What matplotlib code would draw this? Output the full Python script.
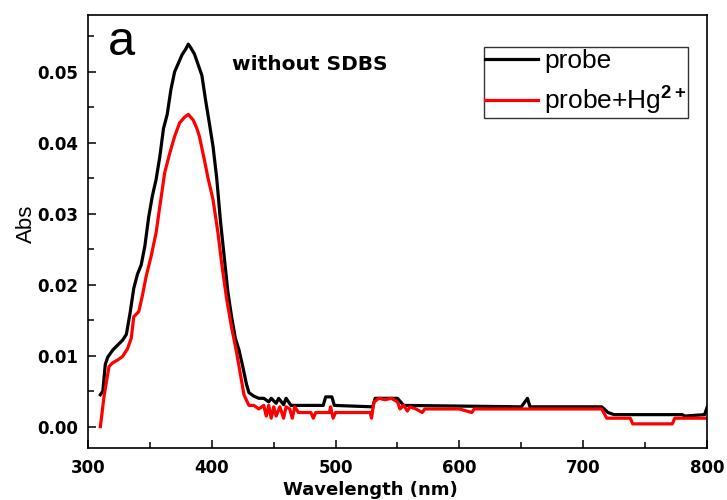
import matplotlib

matplotlib.use("Agg")
import matplotlib.pyplot as plt
from matplotlib.ticker import MultipleLocator

plt.rcParams["font.family"] = ["Liberation Sans", "DejaVu Sans"]
plt.rcParams["mathtext.fontset"] = "custom"
plt.rcParams["mathtext.rm"] = "Liberation Sans"
plt.rcParams["mathtext.bf"] = "Liberation Sans:bold"

# probe (black)
probe_wl = [
    310, 312, 314, 316, 320, 324, 328, 331, 334, 337, 340, 343, 346, 349, 352,
    355, 358, 361, 364, 367, 370, 373, 376, 379, 381, 383, 386, 389, 392, 395,
    398, 401, 404, 407, 410, 413, 416, 419, 422, 425, 428, 430, 434, 438, 442,
    446, 448, 452, 454, 458, 460, 464, 470, 490, 492, 497, 499, 530, 532, 550,
    555, 650, 655, 657, 715, 720, 725, 780, 782, 798, 800,
]
probe_abs = [
    0.0045, 0.0050, 0.0088, 0.0098, 0.0108, 0.0115, 0.0122, 0.0130, 0.0160,
    0.0195, 0.0215, 0.0228, 0.0255, 0.0295, 0.0325, 0.0348, 0.0380, 0.0420,
    0.0440, 0.0475, 0.0500, 0.0512, 0.0524, 0.0532, 0.0539, 0.0534, 0.0525,
    0.0510, 0.0495, 0.0460, 0.0428, 0.0395, 0.0350, 0.0290, 0.0240, 0.0190,
    0.0155, 0.0125, 0.0108, 0.0085, 0.0060, 0.0048, 0.0043, 0.0040, 0.0040,
    0.0035, 0.0040, 0.0033, 0.0040, 0.0031, 0.0040, 0.0030, 0.0030, 0.0030,
    0.0042, 0.0042, 0.0030, 0.0028, 0.0040, 0.0040, 0.0030, 0.0028, 0.0040,
    0.0028, 0.0028, 0.0020, 0.0017, 0.0017, 0.0015, 0.0017, 0.0027,
]

# probe + Hg2+ (red)
hg_wl = [
    310, 313, 317, 320, 324, 328, 332, 335, 337, 341, 344, 347, 351, 355, 358,
    362, 366, 370, 374, 378, 381, 385, 388, 390, 394, 397, 401, 405, 408, 412,
    416, 420, 423, 426, 430, 434, 438, 442, 444, 446, 448, 450, 452, 455, 458,
    460, 463, 465, 467, 470, 480, 482, 484, 495, 496, 498, 500, 528, 529, 531,
    535, 540, 545, 550, 552, 555, 558, 560, 565, 570, 572, 600, 610, 612, 715,
    719, 738, 740, 772, 774, 800,
]
hg_abs = [
    0.0000, 0.0043, 0.0085, 0.0090, 0.0094, 0.0099, 0.0110, 0.0125, 0.0155,
    0.0162, 0.0185, 0.0212, 0.0240, 0.0273, 0.0310, 0.0358, 0.0385, 0.0409,
    0.0428, 0.0436, 0.0440, 0.0432, 0.0420, 0.0409, 0.0376, 0.0350, 0.0320,
    0.0273, 0.0230, 0.0180, 0.0140, 0.0105, 0.0075, 0.0045, 0.0030, 0.0030,
    0.0025, 0.0030, 0.0015, 0.0030, 0.0012, 0.0028, 0.0015, 0.0028, 0.0012,
    0.0028, 0.0025, 0.0012, 0.0028, 0.0020, 0.0020, 0.0012, 0.0020, 0.0020,
    0.0028, 0.0012, 0.0020, 0.0020, 0.0012, 0.0035, 0.0040, 0.0038, 0.0040,
    0.0035, 0.0025, 0.0030, 0.0022, 0.0028, 0.0025, 0.0020, 0.0025, 0.0025,
    0.0020, 0.0025, 0.0025, 0.0012, 0.0012, 0.0004, 0.0004, 0.0012, 0.0012,
]

x_ticks = [300, 400, 500, 600, 700, 800]
y_ticks = [0.00, 0.01, 0.02, 0.03, 0.04, 0.05]


def main() -> None:
    fig = plt.figure(figsize=(7.27, 5.0), dpi=100)
    ax = fig.add_axes([0.121, 0.104, 0.8515, 0.866])

    ax.plot(probe_wl, probe_abs, color="black", linewidth=2.3, label="probe")
    ax.plot(hg_wl, hg_abs, color="#ff0000", linewidth=2.3,
            label=r"probe+Hg$^{\mathbf{2+}}$")

    ax.set_xlim(300, 800)
    ax.set_ylim(-0.003, 0.058)
    ax.set_xticks(x_ticks)
    ax.set_yticks(y_ticks)
    ax.xaxis.set_minor_locator(MultipleLocator(50))
    ax.yaxis.set_minor_locator(MultipleLocator(0.005))
    ax.yaxis.set_major_formatter(plt.FuncFormatter(lambda v, _: f"{v:.2f}"))
    ax.tick_params(which="both", direction="in", top=False, right=False,
                   width=1.1, labelsize=12)
    ax.tick_params(axis="y", pad=7)
    ax.tick_params(axis="x", pad=8)
    ax.tick_params(which="major", length=6)
    ax.tick_params(which="minor", length=4)
    for lbl in ax.get_xticklabels() + ax.get_yticklabels():
        lbl.set_fontweight("bold")
        lbl.set_family("DejaVu Sans")
    for sp in ax.spines.values():
        sp.set_linewidth(1.2)

    ax.set_xlabel("Wavelength (nm)", fontsize=13, fontweight="bold",
                  family="DejaVu Sans", labelpad=3)
    ax.xaxis.label.set_x(0.457)
    ax.set_ylabel("Abs", fontsize=16, labelpad=0)
    ax.yaxis.label.set_y(0.517)

    ax.text(316, 0.0524, "a", fontsize=35)
    ax.text(416, 0.0510, "without SDBS", fontsize=14.5, fontweight="bold",
            family="DejaVu Sans", va="center")

    leg = ax.legend(loc="upper right", bbox_to_anchor=(0.970, 0.925),
                    borderaxespad=0, fontsize=19, fancybox=False,
                    handlelength=2.0, handletextpad=0.25, borderpad=0.05,
                    labelspacing=0.4, frameon=True)
    leg.get_frame().set_edgecolor("black")
    leg.get_frame().set_linewidth(1.0)

    fig.savefig("out.png", dpi=100)
    plt.close(fig)


if __name__ == "__main__":
    main()
